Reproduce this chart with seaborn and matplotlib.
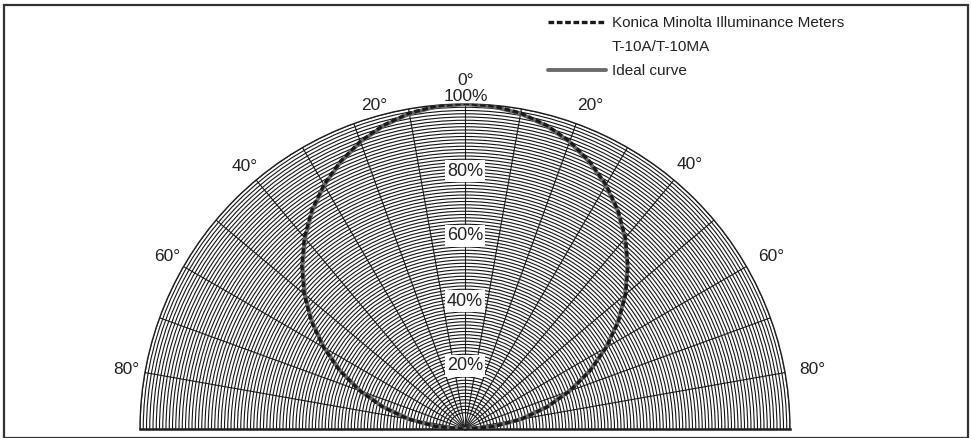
import numpy as np
import pandas as pd
import matplotlib
matplotlib.use("Agg")
import matplotlib.pyplot as plt
from matplotlib.lines import Line2D
from matplotlib.patches import Rectangle
import seaborn as sns

sns.set_style("white")
plt.rcParams["font.family"] = ["Liberation Sans", "DejaVu Sans"]

# Incident angle (degrees, 0 = normal incidence) and relative response
angles_deg = [-90, -85, -80, -75, -70, -65, -60, -55, -50, -45, -40, -35, -30,
              -25, -20, -15, -10, -5, 0, 5, 10, 15, 20, 25, 30, 35, 40, 45,
              50, 55, 60, 65, 70, 75, 80, 85, 90]

ideal_resp = [0.000, 0.087, 0.174, 0.259, 0.342, 0.423, 0.500, 0.574, 0.643,
              0.707, 0.766, 0.819, 0.866, 0.906, 0.940, 0.966, 0.985, 0.996,
              1.000, 0.996, 0.985, 0.966, 0.940, 0.906, 0.866, 0.819, 0.766,
              0.707, 0.643, 0.574, 0.500, 0.423, 0.342, 0.259, 0.174, 0.087,
              0.000]

meter_resp = [0.005, 0.091, 0.178, 0.263, 0.345, 0.426, 0.503, 0.577, 0.646,
              0.710, 0.769, 0.822, 0.868, 0.908, 0.942, 0.968, 0.987, 0.998,
              1.002, 0.998, 0.987, 0.968, 0.942, 0.908, 0.868, 0.821, 0.768,
              0.709, 0.645, 0.576, 0.502, 0.425, 0.344, 0.262, 0.177, 0.090,
              0.005]

pct_labels = ["20%", "40%", "60%", "80%"]
pct_values = [0.2, 0.4, 0.6, 0.8]

df = pd.DataFrame({
    "theta": np.deg2rad(angles_deg),
    "ideal": ideal_resp,
    "meter": meter_resp,
})

W, H = 971, 438
fig = plt.figure(figsize=(W / 100, H / 100), dpi=100)

# half-disc of radius R with its centre at (cx, cy) in pixels; the polar
# axes squares its box, so give it a square box with the wedge centred in it
cx, cy, R = 465, 429, 325
box_top = cy - R / 2 - R
ax = fig.add_axes([(cx - R) / W, (H - (box_top + 2 * R)) / H, 2 * R / W,
                   2 * R / H], projection="polar")
ax.set_theta_zero_location("N")
ax.set_theta_direction(-1)
ax.set_thetamin(-90)
ax.set_thetamax(90)
ax.set_ylim(0, 1.0)

# dense grid: 1 % circles, 10 degree spokes
ax.set_rgrids(np.arange(0.05, 1.001, 0.01), labels=[])
ax.set_thetagrids(np.arange(-90, 91, 10), labels=[])
ax.yaxis.grid(True, color="#141414", linewidth=0.8)
ax.xaxis.grid(True, color="#1e1e1e", linewidth=0.8)
ax.tick_params(length=0, pad=0)
for name, sp in ax.spines.items():
    sp.set_color("#1e1e1e")
    sp.set_linewidth(1.0 if name == "polar" else 1.8)

sns.lineplot(data=df, x="theta", y="ideal", ax=ax, sort=False,
             color="#6a6a6a", linewidth=2.8, zorder=5)
sns.lineplot(data=df, x="theta", y="meter", ax=ax, sort=False,
             color="#1a1a1a", linewidth=2.4, linestyle=(0, (1.7, 0.8)),
             zorder=6)
ax.set_xlabel("")
ax.set_ylabel("")

for lab, v in zip(pct_labels, pct_values):
    ax.text(0, v, lab, ha="center", va="center_baseline", fontsize=13,
            color="#222222", zorder=7,
            bbox=dict(facecolor="white", edgecolor="none", pad=1.5))


def px(x, y):
    return x / W, 1 - y / H


# angle captions around the rim (positions are text baselines)
for text, (x, y) in [("0°", (466, 85)), ("100%", (466, 101)),
                     ("20°", (374, 110)), ("20°", (590, 110)),
                     ("40°", (245, 171)), ("40°", (690, 169)),
                     ("60°", (167, 261)), ("60°", (771, 261)),
                     ("80°", (126, 374)), ("80°", (812, 374))]:
    fig.text(*px(x, y), text, ha="center", va="baseline", fontsize=12.5,
             color="#222222")

# key
fig.add_artist(Line2D([548 / W, 606 / W], [1 - 22 / H] * 2, color="#1a1a1a",
                      linewidth=2.4, linestyle=(0, (1.7, 0.8))))
fig.add_artist(Line2D([548 / W, 606 / W], [1 - 70 / H] * 2, color="#6a6a6a",
                      linewidth=2.8))
for text, y in [("Konica Minolta Illuminance Meters", 27),
                ("T-10A/T-10MA", 51), ("Ideal curve", 75)]:
    fig.text(*px(612, y), text, ha="left", va="baseline", fontsize=11,
             color="#222222")

# outer frame
fig.add_artist(Rectangle((3.5 / W, 0), (968 - 3.5) / W, 1 - 5 / H,
                         transform=fig.transFigure, fill=False,
                         edgecolor="#333333", linewidth=1.6))

fig.savefig("out.png", dpi=100)
